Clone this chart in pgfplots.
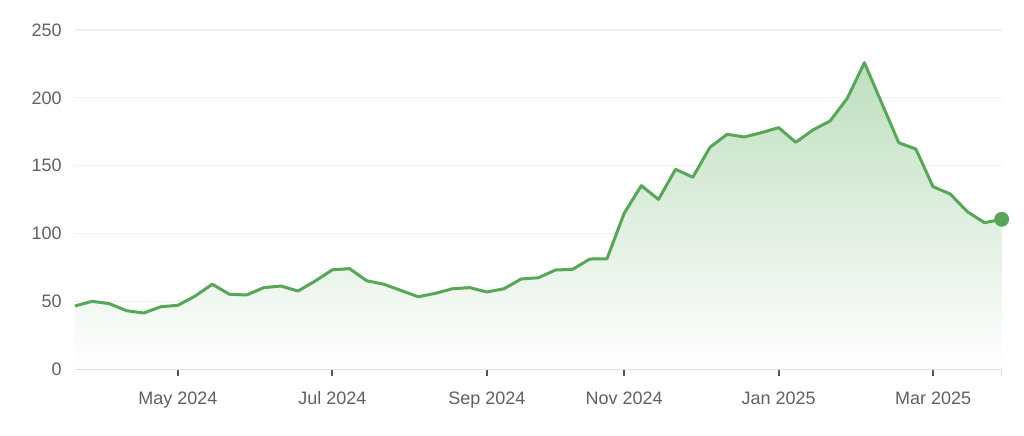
\documentclass[border=0pt]{standalone}
\usepackage{pgfplots}
\pgfplotsset{compat=1.18}
\usepackage{pgfplotstable}
\usepackage{fontspec}
\setmainfont{Liberation Sans}

\definecolor{linegreen}{RGB}{88,166,88}
\definecolor{fillgreen}{RGB}{190,222,190}
\definecolor{fillmid}{RGB}{230,242,230}
\definecolor{labelgray}{RGB}{96,96,96}
\definecolor{gridgray}{RGB}{240,240,240}
\definecolor{axisgray}{RGB}{222,222,222}
\definecolor{tickgray}{RGB}{85,85,85}

% weekly values, week 0 = early April 2024
\pgfplotstableread{
w  v
0  46.5
1  49.9
2  48.2
3  43.0
4  41.3
5  45.9
6  47.0
7  53.8
8  62.5
9  55.1
10 54.6
11 60.0
12 61.2
13 57.5
14 64.9
15 73.2
16 74.0
17 65.1
18 62.5
19 57.9
20 53.3
21 55.8
22 59.2
23 60.0
24 56.8
25 59.2
26 66.4
27 67.3
28 73.0
29 73.5
30 81.1
31 81.3
32 114.8
33 135.2
34 125.1
35 147.3
36 141.4
37 163.5
38 173.1
39 171.1
40 174.3
41 178.0
42 167.2
43 176.3
44 182.9
45 199.6
46 225.9
47 196.4
48 166.9
49 162.2
50 134.4
51 129.1
52 116.0
53 107.9
54 110.4
}\data

\begin{document}
\begin{tikzpicture}
\useasboundingbox (-37.5pt,-33pt) rectangle (474.5pt,184.5pt);
\begin{axis}[
    at={(0,0)}, anchor=south west,
    scale only axis,
    width=463.35pt, height=169.5pt,
    xmin=0, xmax=54,
    ymin=0, ymax=250,
    clip=false,
    axis x line*=bottom,
    axis y line*=left,
    x axis line style={draw=axisgray, line width=0.6pt, -},
    y axis line style={draw=none},
    xtick={6,15,24,32,41,50},
    xticklabels={May 2024,Jul 2024,Sep 2024,Nov 2024,Jan 2025,Mar 2025},
    extra x ticks={54},
    extra x tick labels={},
    extra x tick style={xtick style={draw=axisgray, line width=0.6pt}},
    ytick={0,50,...,250},
    ymajorgrids,
    grid style={draw=gridgray, line width=0.6pt},
    tick align=outside,
    major tick length=3.5pt,
    xtick style={draw=tickgray, line width=1pt},
    ytick style={draw=none},
    /pgf/number format/assume math mode=true,
    tick label style={font=\fontsize{9}{11}\selectfont, text=labelgray},
    x tick label style={anchor=base, inner sep=0pt, yshift=-14pt},
    y tick label style={anchor=east, inner sep=0pt, xshift=-3pt},
]
\addplot[draw=none, top color=fillgreen, middle color=fillmid, bottom color=white, forget plot]
    table[x=w, y=v] {\data} \closedcycle;
\addplot[linegreen, line width=1.5pt, line join=round] table[x=w, y=v] {\data};
\addplot[only marks, mark=*, mark size=3.5pt, linegreen] coordinates {(54,110.4)};
\end{axis}
\end{tikzpicture}
\end{document}
